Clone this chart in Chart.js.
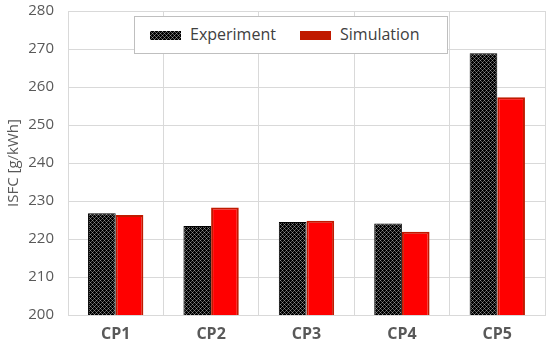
<!DOCTYPE html>
<html>
<head>
<meta charset="utf-8">
<script src="https://cdn.jsdelivr.net/npm/chart.js@4"></script>
<style>
  body { margin: 0; background: #fff; }
  #wrap { position: relative; width: 550px; height: 353px; }
  #legend {
    position: absolute; left: 134px; top: 16px; width: 314px; height: 38px;
    background: #fff; border: 1px solid #BFBFBF; box-sizing: border-box;
    font-family: "Open Sans", "Noto Sans", sans-serif; font-size: 16px; color: #404040;
  }
  #legend span.sw { position: absolute; top: 14px; width: 31px; height: 9px; }
  #legend span.tx { position: absolute; top: 6px; }
</style>
</head>
<body>
<div id="wrap">
  <canvas id="chart" width="550" height="353"></canvas>
  <div id="legend">
    <span class="sw" id="swExp" style="left:15px;"></span>
    <span class="tx" style="left:55px;">Experiment</span>
    <span class="sw" style="left:165px;background:#C01A00;"></span>
    <span class="tx" style="left:205px;">Simulation</span>
  </div>
</div>
<script>
// ISFC per operating point
const categories = ['CP1', 'CP2', 'CP3', 'CP4', 'CP5'];
const experiment = [226.8, 223.4, 224.5, 224.1, 268.9];
const simulation = [226.3, 228.3, 224.8, 221.9, 257.3];
const yTicks = [200, 210, 220, 230, 240, 250, 260, 270, 280];

// black crosshatch fill like the Excel pattern
function makePattern() {
  const p = document.createElement('canvas');
  p.width = 4; p.height = 4;
  const c = p.getContext('2d');
  c.fillStyle = '#000';
  c.fillRect(0, 0, 4, 4);
  c.fillStyle = '#8C8C8C';
  c.fillRect(0, 0, 1, 1);
  c.fillRect(2, 2, 1, 1);
  c.fillStyle = '#555';
  c.fillRect(1, 1, 1, 1);
  c.fillRect(3, 3, 1, 1);
  c.fillRect(3, 1, 1, 1);
  c.fillRect(1, 3, 1, 1);
  return p;
}
const patCanvas = makePattern();
document.getElementById('swExp').style.background = 'url(' + patCanvas.toDataURL() + ')';

const ctx = document.getElementById('chart').getContext('2d');
const hatch = ctx.createPattern(patCanvas, 'repeat');

const chart = new Chart(ctx, {
  type: 'bar',
  data: {
    labels: categories,
    datasets: [{
      label: 'Experiment',
      data: experiment,
      backgroundColor: hatch,
      borderColor: '#000',
      borderWidth: 1,
      categoryPercentage: 0.58,
      barPercentage: 1.0
    }, {
      label: 'Simulation',
      data: simulation,
      backgroundColor: '#FF0000',
      borderColor: '#C01A00',
      borderWidth: 2,
      categoryPercentage: 0.58,
      barPercentage: 1.0
    }]
  },
  options: {
    responsive: false,
    animation: false,
    layout: { padding: { top: 11, right: 5, left: 0, bottom: 0 } },
    plugins: {
      legend: { display: false },
      tooltip: { enabled: false }
    },
    scales: {
      x: {
        grid: { color: '#D9D9D9', lineWidth: 1, offset: true, drawTicks: false },
        border: { color: '#D9D9D9' },
        ticks: {
          color: '#595959',
          padding: 10,
          font: { family: '"Open Sans", "Noto Sans", sans-serif', size: 16, weight: 'bold' }
        },
        afterFit: (s) => { s.height = 38; }
      },
      y: {
        min: 200,
        max: 280,
        afterBuildTicks: (s) => { s.ticks = yTicks.map(v => ({ value: v })); },
        grid: { color: '#D9D9D9', lineWidth: 1, drawTicks: false },
        border: { color: '#D9D9D9' },
        ticks: {
          color: '#595959',
          padding: 14,
          font: { family: '"Open Sans", "Noto Sans", sans-serif', size: 15 }
        },
        title: {
          display: true,
          text: 'ISFC [g/kWh]',
          color: '#595959',
          padding: { top: 5, bottom: 0 },
          font: { family: '"Open Sans", "Noto Sans", sans-serif', size: 15 }
        },
        afterFit: (s) => { s.width = 68; s.paddingTop = 0; s.paddingBottom = 0; }
      }
    }
  }
});
</script>
</body>
</html>
